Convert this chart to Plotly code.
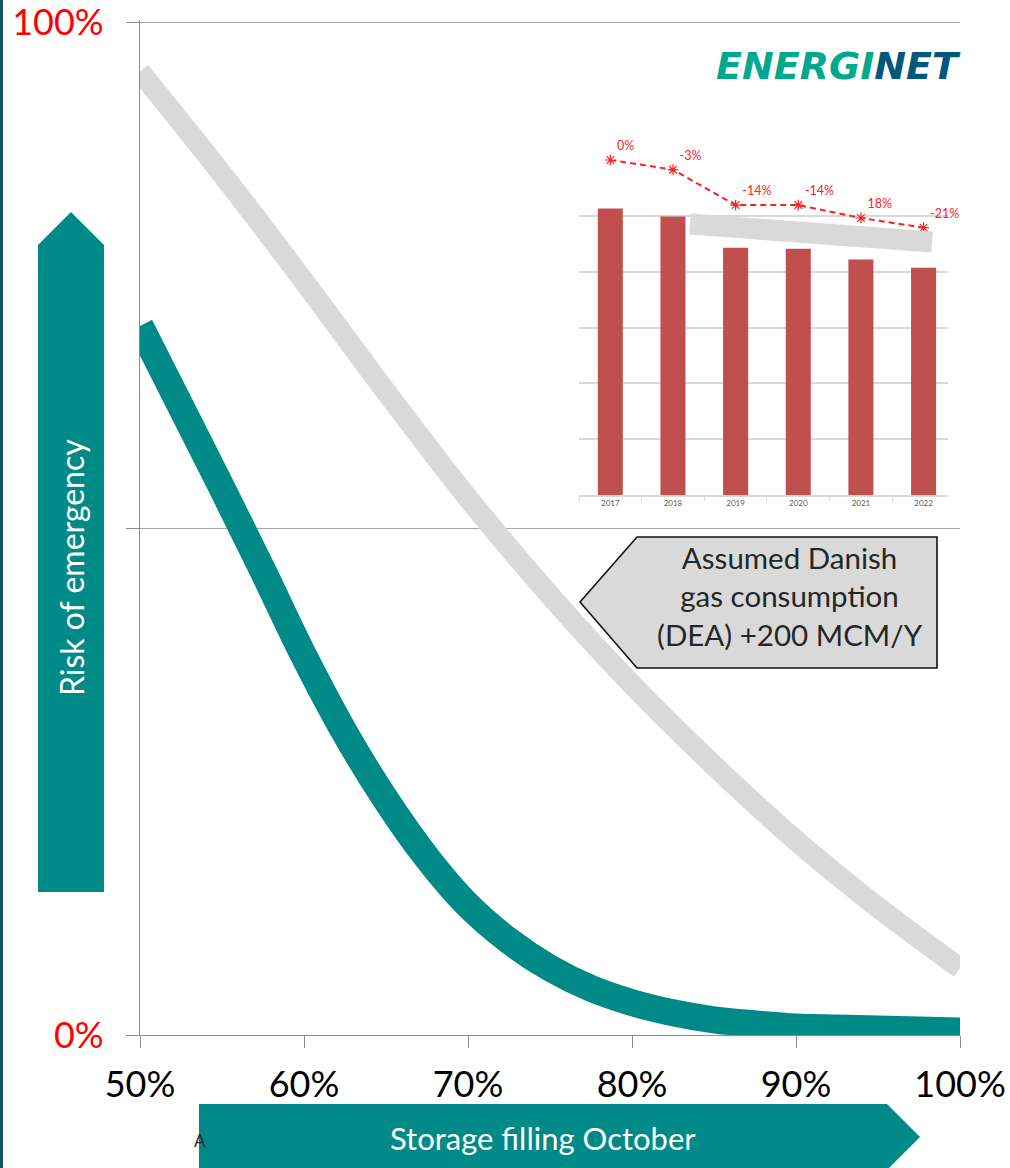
import plotly.graph_objects as go

W, H = 1010, 1168

# Risk of emergency versus storage filling in October (%)
filling_dea = [50, 55, 60, 65, 70, 75, 80, 85, 90, 95, 100]
risk_dea = [95.1, 85.0, 74.4, 63.5, 53.0, 43.4, 34.6, 26.6, 19.2, 12.6, 6.6]
filling_base = [50, 52.5, 55, 57.5, 60, 62.5, 65, 67.5, 70, 72.5, 75, 77.5, 80,
                82.5, 85, 87.5, 90, 92.5, 95, 97.5, 100]
risk_base = [70.0, 62.0, 54.0, 45.8, 37.4, 29.8, 23.2, 17.5, 12.8, 9.3, 6.6, 4.6, 3.2,
             2.2, 1.5, 1.1, 0.8, 0.7, 0.6, 0.5, 0.4]
x_ticks = [50, 60, 70, 80, 90, 100]
x_tick_labels = ["50%", "60%", "70%", "80%", "90%", "100%"]
y_ticks = [0, 50, 100]
y_tick_labels = ["0%", "", "100%"]

# Inset: Danish gas consumption outlook
years = ["2017", "2018", "2019", "2020", "2021", "2022"]
consumption = [2565, 2495, 2215, 2205, 2110, 2035]
change_pct = [0, -3, -14, -14, -18, -21]
change_labels = ["0%", "-3%", "-14%", "-14%", "18%", "-21%"]

TEAL = "#008A87"
GREY = "#D9D9D9"
FONT = "Lato, 'Open Sans', sans-serif"

# main plot area in pixels
PLOT_L, PLOT_R, PLOT_TOP, PLOT_BOTTOM = 140, 960, 22, 1035
Y_MAX = 100.2
y_top_px = PLOT_BOTTOM - (PLOT_BOTTOM - PLOT_TOP) * Y_MAX / 100


def px(x):
    return x / W


def py(y):
    return 1 - y / H


def path(points):
    return "M " + " L ".join(f"{px(x):.5f},{py(y):.5f}" for x, y in points) + " Z"


fig = go.Figure()

fig.add_trace(go.Scatter(
    x=filling_dea, y=risk_dea, mode="lines", line=dict(color=GREY, width=21, shape="spline"),
    xaxis="x", yaxis="y", hoverinfo="skip", showlegend=False))
fig.add_trace(go.Scatter(
    x=filling_base, y=risk_base, mode="lines", line=dict(color=TEAL, width=27, shape="spline"),
    xaxis="x", yaxis="y", hoverinfo="skip", showlegend=False))

fig.add_trace(go.Bar(
    x=years, y=consumption, marker=dict(color="#C0504D", line=dict(width=0)), width=0.4,
    xaxis="x2", yaxis="y2", hoverinfo="skip", showlegend=False))
fig.add_trace(go.Scatter(
    x=years, y=change_pct, mode="lines+markers+text",
    line=dict(color="#FF2020", width=2, dash="6px,4px"),
    marker=dict(symbol="asterisk-open", size=9, color="#FF2020", line=dict(color="#FF2020", width=1.2)),
    text=change_labels, textposition="top right",
    textfont=dict(family=FONT, size=12.5, color="#FF2020"),
    xaxis="x2", yaxis="y3", hoverinfo="skip", showlegend=False, cliponaxis=False))

shapes = [
    # left page edge
    dict(type="rect", xref="paper", yref="paper", x0=0, x1=px(3), y0=0, y1=1,
         fillcolor="#14535F", line=dict(width=0), layer="above"),
    # vertical "risk" arrow
    dict(type="path", xref="paper", yref="paper",
         path=path([(38, 892), (38, 245), (71, 212), (104, 245), (104, 892)]),
         fillcolor=TEAL, line=dict(width=0), layer="above"),
    # horizontal "storage" arrow
    dict(type="path", xref="paper", yref="paper",
         path=path([(199, 1104), (887, 1104), (920, 1137), (887, 1170), (199, 1170)]),
         fillcolor=TEAL, line=dict(width=0), layer="above"),
    # callout box
    dict(type="path", xref="paper", yref="paper",
         path=path([(580, 602), (637, 537), (937, 537), (937, 668), (637, 668)]),
         fillcolor=GREY, line=dict(color="#111111", width=1.6), layer="above"),
    # grey trend marker in the inset
    dict(type="line", xref="paper", yref="paper",
         x0=px(690), y0=py(224), x1=px(932), y1=py(242),
         line=dict(color=GREY, width=21), layer="above"),
]

annotations = [
    dict(xref="paper", yref="paper", x=px(192), y=py(1140), text="A", showarrow=False,
         xanchor="left", yanchor="middle", font=dict(family=FONT, size=17, color="#262626")),
    dict(xref="paper", yref="paper", x=px(72), y=py(568), text="Risk of emergency",
         textangle=-90, showarrow=False, xanchor="center", yanchor="middle",
         font=dict(family=FONT, size=32, color="white")),
    dict(xref="paper", yref="paper", x=px(543), y=py(1138), text="Storage filling October",
         showarrow=False, xanchor="center", yanchor="middle",
         font=dict(family=FONT, size=31, color="white")),
    dict(xref="paper", yref="paper", x=px(790), y=py(596),
         text="Assumed Danish<br>gas consumption<br>(DEA) +200 MCM/Y",
         showarrow=False, xanchor="center", yanchor="middle", align="center",
         font=dict(family=FONT, size=29.5, color="#262626")),
    dict(xref="paper", yref="paper", x=px(963), y=py(66),
         text="<b><i>ENERGI<span style='color:#00587A'>NET</span></i></b>",
         showarrow=False, xanchor="right", yanchor="middle",
         font=dict(family="'DejaVu Sans', sans-serif", size=38, color="#00A98E")),
]

fig.update_layout(
    width=W, height=H, autosize=False,
    margin=dict(l=0, r=0, t=0, b=0, pad=0, autoexpand=False),
    paper_bgcolor="white", plot_bgcolor="rgba(0,0,0,0)",
    font=dict(family=FONT),
    shapes=shapes, annotations=annotations,
    xaxis=dict(domain=[px(PLOT_L), px(PLOT_R)], range=[50, 100], anchor="y", automargin=False,
               tickmode="array", tickvals=x_ticks, ticktext=x_tick_labels,
               showgrid=False, zeroline=False, showline=True, linecolor="#8C8C8C", linewidth=1.3,
               ticks="outside", ticklen=12, tickcolor="#8C8C8C", tickwidth=1.3,
               tickfont=dict(family=FONT, size=36, color="black"), ticklabelstandoff=6,
               ticklabeloverflow="allow", layer="below traces"),
    yaxis=dict(domain=[py(PLOT_BOTTOM), py(y_top_px)], range=[0, Y_MAX], anchor="x",
               automargin=False,
               tickmode="array", tickvals=y_ticks, ticktext=y_tick_labels,
               showgrid=True, gridcolor="#A6A6A6", gridwidth=1.3, zeroline=False,
               showline=True, linecolor="#8C8C8C", linewidth=1.3,
               ticks="outside", ticklen=13, tickcolor="#8C8C8C", tickwidth=1.3,
               tickfont=dict(family=FONT, size=36, color="#FF0000"), ticklabelstandoff=15,
               ticklabeloverflow="allow", layer="below traces"),
    xaxis2=dict(domain=[px(579), px(948)], range=[-0.5, 5.39], anchor="y2", type="category",
                automargin=False,
                showgrid=False, zeroline=False, showline=True, linecolor=GREY, linewidth=1.5,
                ticks="outside", tickson="boundaries", ticklen=4, tickcolor=GREY,
                tickfont=dict(family=FONT, size=8, color="#595959")),
    yaxis2=dict(domain=[py(495), py(160)], range=[0, 3000], dtick=500, anchor="x2",
                automargin=False,
                showgrid=True, gridcolor=GREY, gridwidth=1.5, zeroline=False,
                showticklabels=False, showline=False),
    yaxis3=dict(domain=[py(495), py(160)], range=[-104, 0], overlaying="y2", anchor="x2",
                automargin=False, visible=False),
    bargap=0.6,
)

fig.write_html("out.html")
